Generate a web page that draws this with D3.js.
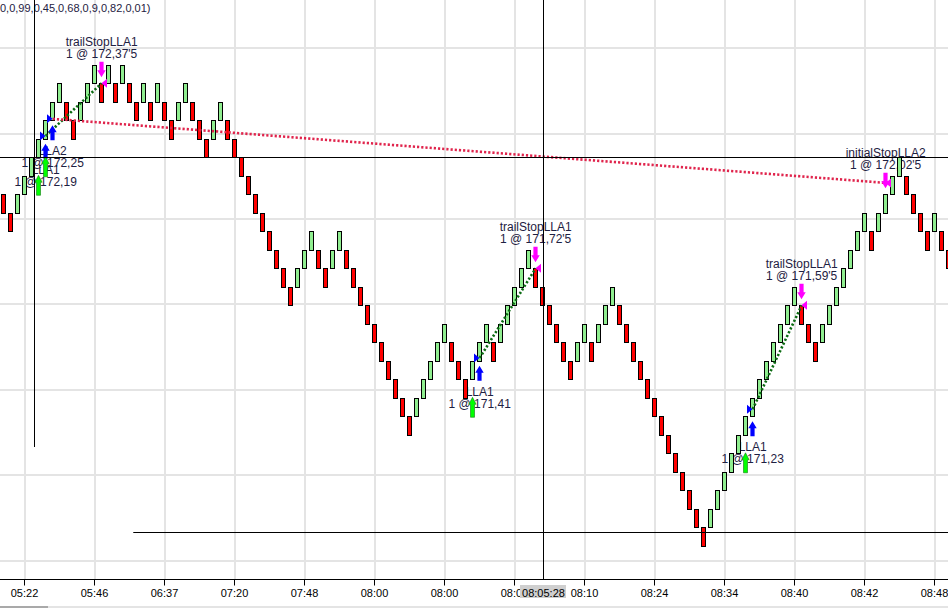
<!DOCTYPE html>
<html><head><meta charset="utf-8">
<script src="https://cdn.jsdelivr.net/npm/d3@7/dist/d3.min.js"></script>
<style>html,body{margin:0;padding:0;background:#fff;overflow:hidden}svg{display:block}</style>
</head><body><svg id="chart" width="948" height="608"></svg>
<script>
// ---------------- data ----------------
const timeLabels = ["05:22","05:46","06:37","07:20","07:48","08:00","08:00","08:04","08:10","08:24","08:34","08:40","08:42","08:48"];
const tickBars   = [0,10,20,30,40,50,60,70,80,90,100,110,120,130];
const priceGrid  = [172.5,172.2,171.9,171.6,171.3,171.0,170.7];
const brickSize  = 0.065;
const firstBar   = -3;
// R = down brick, G = up brick
const brickDir = "RRG" +
  "GGGGGGRRGG" + "GRGRGRRGRG" + "RRGGRRRGGR" + "RRRRRRRRRG" + "GGRRGGRRRR" +
  "RRRRRRGGGG" + "GRRRGGGRGG" + "GGGRRRRRRG" + "GRGGGRRRRR" + "RRRRRRRRGG" +
  "GGGGGGGGGG" + "GRRRGGGGGG" + "GRGGGGRRRR" + "GRR";
const brickClose = [
  171.92,171.855,171.985,
  172.05,172.115,172.18,172.245,172.31,172.375,172.245,172.18,172.31,172.375,
  172.44,172.31,172.44,172.31,172.44,172.31,172.245,172.375,172.245,172.375,
  172.245,172.18,172.31,172.375,172.245,172.18,172.115,172.245,172.31,172.18,
  172.115,172.05,171.985,171.92,171.855,171.79,171.725,171.66,171.595,171.725,
  171.79,171.855,171.725,171.66,171.79,171.855,171.725,171.66,171.595,171.53,
  171.465,171.40,171.335,171.27,171.205,171.14,171.27,171.335,171.40,171.465,
  171.53,171.40,171.335,171.27,171.40,171.465,171.53,171.40,171.53,171.595,
  171.66,171.725,171.79,171.66,171.595,171.53,171.465,171.40,171.335,171.465,
  171.53,171.40,171.53,171.595,171.66,171.53,171.465,171.40,171.335,171.27,
  171.205,171.14,171.075,171.01,170.945,170.88,170.815,170.75,170.88,170.945,
  171.01,171.075,171.14,171.205,171.27,171.335,171.40,171.465,171.53,171.595,
  171.66,171.53,171.465,171.40,171.53,171.595,171.66,171.725,171.79,171.855,
  171.92,171.79,171.92,171.985,172.05,172.115,171.985,171.92,171.855,171.79,
  171.92,171.79,171.725
];
const tradeNames   = ["LLA1","LLA2","LLA1","LLA1"];
const signalBars   = [2,3,64,103];
const fillBars     = [3,4,65,104];
const entryPrices  = [172.19,172.25,171.41,171.23];
const entryTexts   = ["172,19","172,25","171,41","171,23"];
const exitNames    = ["trailStopLLA1","initialStopLLA2","trailStopLLA1","trailStopLLA1"];
const exitBars     = [11,123,73,111];
const exitPrices   = [172.375,172.025,171.725,171.595];
const exitTexts    = ["172,37'5","172,02'5","171,72'5","171,59'5"];
const headerText   = "0,0,99,0,45,0,68,0,9,0,82,0,01)";
const cursorBar = 74.08, cursorPrice = 172.114, cursorTime = "08:05:28";
const cursor2Bar = 1.37, cursor2Price = 170.796, cursor2LowPrice = 171.097, cursor2StartBar = 15.51;

// ---------------- scales ----------------
const W = 948, H = 608, axisY = 579.5;
const x = d3.scaleLinear().domain([0,130]).range([24.7,934.7]);
const y = d3.scaleLinear().domain([170.7,172.5]).range([560,47.7]);
const svg = d3.select("#chart");
const FONT = "'Liberation Sans', Arial, sans-serif";
const TXT = "#1e2142";

const bricks = brickClose.map((c,k) => {
  const up = brickDir[k] === "G";
  const o = up ? c - brickSize : c + brickSize;
  return {bar: firstBar + k, up, hi: Math.max(o,c), lo: Math.min(o,c)};
});
const byBar = b => bricks[b - firstBar];

// grid
const grid = svg.append("g");
grid.selectAll("line.v").data(tickBars).join("line")
  .attr("x1", d => Math.floor(x(d)) + 1).attr("x2", d => Math.floor(x(d)) + 1)
  .attr("y1", 0).attr("y2", axisY).attr("stroke", "#e4e4e4").attr("stroke-width", 2);
grid.selectAll("line.h").data(priceGrid).join("line")
  .attr("x1", 0).attr("x2", W)
  .attr("y1", d => Math.floor(y(d)) + 1).attr("y2", d => Math.floor(y(d)) + 1)
  .attr("stroke", "#e4e4e4").attr("stroke-width", 2);

// header text
svg.append("text").attr("x", 0).attr("y", 12).attr("font-family", FONT).attr("font-size", 11)
  .attr("fill", TXT).text(headerText);

// trade labels (under bricks)
const labels = svg.append("g").attr("font-family", FONT).attr("font-size", 12).attr("fill", TXT).attr("text-anchor", "middle");
tradeNames.forEach((n,t) => {
  const cx = x(fillBars[t]);
  const b2 = y(byBar(signalBars[t]).lo) + 28.5;
  labels.append("text").attr("x", cx).attr("y", b2 - 12).text(n);
  labels.append("text").attr("x", cx).attr("y", b2).text("1 @ " + entryTexts[t]);
  const ex = x(exitBars[t]);
  const e2 = y(byBar(exitBars[t]).hi) - 25;
  labels.append("text").attr("x", ex).attr("y", e2 - 12).text(exitNames[t]);
  labels.append("text").attr("x", ex).attr("y", e2).text("1 @ " + exitTexts[t]);
});

// bricks
svg.append("g").selectAll("rect").data(bricks.filter(b => x(b.bar) > -5 && x(b.bar) < W + 5)).join("rect")
  .attr("x", d => Math.floor(x(d.bar)) - 2 + 0.5)
  .attr("width", 4)
  .attr("y", d => Math.round(y(d.hi)) + 0.5)
  .attr("height", d => Math.round(y(d.lo)) - Math.round(y(d.hi)))
  .attr("fill", d => d.up ? "#90ee90" : "#ff0000")
  .attr("stroke", "#000").attr("stroke-width", 1);

// trade lines
const marks = svg.append("g");
tradeNames.forEach((n,t) => {
  const win = exitPrices[t] > entryPrices[t];
  marks.append("line")
    .attr("x1", x(fillBars[t])).attr("y1", y(entryPrices[t]))
    .attr("x2", x(exitBars[t])).attr("y2", y(exitPrices[t]))
    .attr("stroke", win ? "#0b6b12" : "#e0244c").attr("stroke-width", 2.6)
    .attr("stroke-dasharray", "2.2,2");
});

function upArrow(cx, tip, len, hw, sw, hh) {
  return `M${cx},${tip} L${cx+hw},${tip+hh} L${cx+sw},${tip+hh} L${cx+sw},${tip+len} L${cx-sw},${tip+len} L${cx-sw},${tip+hh} L${cx-hw},${tip+hh} Z`;
}
function downArrow(cx, tip, len, hw, sw, hh) {
  return `M${cx},${tip} L${cx+hw},${tip-hh} L${cx+sw},${tip-hh} L${cx+sw},${tip-len} L${cx-sw},${tip-len} L${cx-sw},${tip-hh} L${cx-hw},${tip-hh} Z`;
}
tradeNames.forEach((n,t) => {
  // signal arrow (green)
  const sx = Math.floor(x(signalBars[t])) + 0.5;
  marks.append("path").attr("d", upArrow(sx, y(byBar(signalBars[t]).lo) + 18, 20, 3.6, 2, 7))
    .attr("fill", "#00ff00").attr("stroke", "#137a13").attr("stroke-width", 0.6);
  // fill arrow (blue)
  const fx = Math.floor(x(fillBars[t])) + 0.5;
  marks.append("path").attr("d", upArrow(fx, y(byBar(fillBars[t]).lo) + 5, 15, 4.2, 2.1, 7))
    .attr("fill", "#0000ff");
  // entry triangle
  const ey = y(entryPrices[t]);
  marks.append("path").attr("d", `M${fx},${ey} L${fx-5.5},${ey-4.5} L${fx-5.5},${ey+4.5} Z`).attr("fill", "#0000ff");
  // exit arrow (magenta)
  const xx = Math.floor(x(exitBars[t])) + 0.5;
  marks.append("path").attr("d", downArrow(xx, y(byBar(exitBars[t]).hi) - 6, 15.5, 4.2, 2.1, 7))
    .attr("fill", "#ff00ff");
  const py = y(exitPrices[t]);
  marks.append("path").attr("d", `M${xx},${py} L${xx+5.5},${py-4.5} L${xx+5.5},${py+4.5} Z`).attr("fill", "#ff00ff");
});

// crosshairs
const ch = svg.append("g").attr("stroke", "#000").attr("stroke-width", 1);
const cX = Math.floor(x(cursorBar)) + 0.5, cY = Math.floor(y(cursorPrice)) + 0.5;
ch.append("line").attr("x1", cX).attr("x2", cX).attr("y1", 0).attr("y2", axisY);
ch.append("line").attr("x1", 0).attr("x2", W).attr("y1", cY).attr("y2", cY);
const c2X = Math.floor(x(cursor2Bar)) + 0.5, c2Y = Math.floor(y(cursor2Price)) + 0.5;
ch.append("line").attr("x1", c2X).attr("x2", c2X).attr("y1", 0).attr("y2", y(cursor2LowPrice));
ch.append("line").attr("x1", x(cursor2StartBar)).attr("x2", W).attr("y1", c2Y).attr("y2", c2Y);

// x axis
const axis = svg.append("g");
axis.append("line").attr("x1", 0).attr("x2", W).attr("y1", axisY).attr("y2", axisY).attr("stroke", "#000");
axis.selectAll("line.t").data(tickBars).join("line")
  .attr("x1", d => Math.floor(x(d)) + 0.5).attr("x2", d => Math.floor(x(d)) + 0.5)
  .attr("y1", axisY).attr("y2", axisY + 6).attr("stroke", "#000");
axis.selectAll("text").data(tickBars).join("text")
  .attr("x", d => Math.floor(x(d)) + 0.5).attr("y", 596.5)
  .attr("text-anchor", "middle").attr("font-family", FONT).attr("font-size", 11).attr("fill", "#000")
  .text((d,k) => timeLabels[k]);
// cursor time box
axis.append("rect").attr("x", cX - 23.5).attr("y", 585).attr("width", 46).attr("height", 13).attr("fill", "#cfcfcf");
axis.append("text").attr("x", cX).attr("y", 596.5).attr("text-anchor", "middle")
  .attr("font-family", FONT).attr("font-size", 11).attr("fill", "#000").text(cursorTime);

// scrollbar strip
svg.append("rect").attr("x", 0).attr("y", 606).attr("width", W).attr("height", 2).attr("fill", "#e4e4e4");
svg.append("rect").attr("x", 0).attr("y", 606).attr("width", 48).attr("height", 2).attr("fill", "#a9a9a9");
</script></body></html>
